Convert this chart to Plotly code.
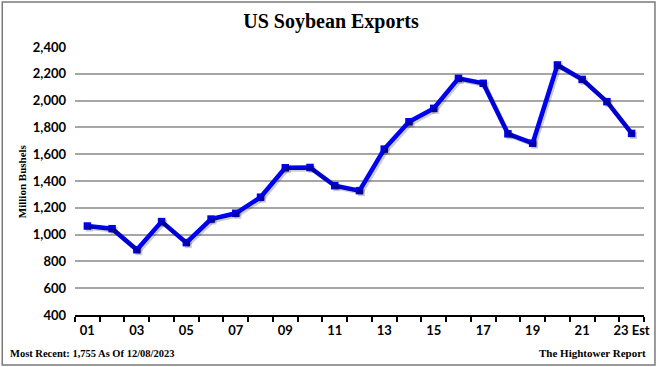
import plotly.graph_objects as go

years = list(range(1, 24))
year_labels = ["01", "03", "05", "07", "09", "11", "13", "15", "17", "19", "21", "23 Est"]
label_positions = [1, 3, 5, 7, 9, 11, 13, 15, 17, 19, 21, 23]
exports = [1064, 1044, 887, 1097, 940, 1116, 1159, 1279, 1499, 1501, 1365, 1328,
           1638, 1842, 1942, 2166, 2129, 1752, 1682, 2266, 2158, 1992, 1755]
y_ticks = [400, 600, 800, 1000, 1200, 1400, 1600, 1800, 2000, 2200, 2400]

W, H = 662, 367
L, R, T, B = 75, 16, 47, 52
pw, ph = W - L - R, H - T - B

xr = [0.5, 23.5]
yr = [400, 2400]
# shadow offset (px) expressed in axis units
sx = 2 * (xr[1] - xr[0]) / pw
sy = 2 * (yr[1] - yr[0]) / ph

fig = go.Figure()
fig.add_trace(go.Scatter(
    x=years, y=exports, xaxis="x2", yaxis="y2", mode="lines+markers",
    line=dict(color="rgba(0,0,0,0.2)", width=4),
    marker=dict(symbol="square", size=7, color="rgba(0,0,0,0.2)"),
    hoverinfo="skip", showlegend=False))
fig.add_trace(go.Scatter(
    x=years, y=exports, mode="lines+markers",
    line=dict(color="#0000ff", width=4.5),
    marker=dict(symbol="square", size=7.5, color="#0000f0"),
    showlegend=False))

sans = "Lato"
serif = "Liberation Serif"

def px_x(p):
    return (p - L) / pw

def px_y(p):
    return (H - B - p) / ph

fig.update_layout(
    width=W, height=H,
    margin=dict(l=L, r=R, t=T, b=B),
    paper_bgcolor="white", plot_bgcolor="white",
    title=dict(text="US Soybean Exports", x=0.5, xref="container", xanchor="center",
               y=1 - 21 / H, yref="container", yanchor="middle",
               font=dict(family=serif, size=20, color="black", weight="bold")),
    xaxis=dict(range=xr, tickmode="array", tickvals=label_positions, ticktext=year_labels,
               ticks="", showgrid=False, zeroline=False,
               showline=True, linecolor="black", linewidth=2, ticklabelstandoff=2,
               minor=dict(tick0=0.5, dtick=1, ticks="outside", ticklen=5, tickwidth=2,
                          tickcolor="black", showgrid=False),
               tickfont=dict(family=sans, size=13, color="black", weight="bold")),
    yaxis=dict(range=yr, tickmode="array", tickvals=y_ticks, tickformat=",d",
               showgrid=True, gridcolor="#a6a6a6", gridwidth=1.5,
               zeroline=False, showline=False, ticks="", ticklabelstandoff=8,
               tickfont=dict(family=sans, size=13, color="black", weight="bold")),
    xaxis2=dict(range=[xr[0] - sx, xr[1] - sx], overlaying="x", visible=False),
    yaxis2=dict(range=[yr[0] + sy, yr[1] + sy], overlaying="y", visible=False),
    shapes=[dict(type="rect", xref="paper", yref="paper",
                 x0=px_x(2), x1=px_x(657), y0=px_y(365), y1=px_y(2),
                 line=dict(color="#7a7a7a", width=1.5), layer="below")],
    annotations=[
        dict(text="Million Bushels", xref="paper", yref="paper", x=px_x(22), y=0.5,
             textangle=-90, showarrow=False, xanchor="center", yanchor="middle",
             font=dict(family=serif, size=11, color="black", weight="bold")),
        dict(text="Most Recent: 1,755 As Of 12/08/2023", xref="paper", yref="paper",
             x=px_x(8), y=px_y(353), showarrow=False, xanchor="left", yanchor="middle",
             font=dict(family=serif, size=10.5, color="black", weight="bold")),
        dict(text="The Hightower Report", xref="paper", yref="paper",
             x=px_x(650), y=px_y(353), showarrow=False, xanchor="right", yanchor="middle",
             font=dict(family=serif, size=11, color="black", weight="bold")),
    ],
)

fig.write_html("out.html", config={"displayModeBar": False},
               post_script="document.body.style.margin='0';document.body.style.overflow='hidden';")
